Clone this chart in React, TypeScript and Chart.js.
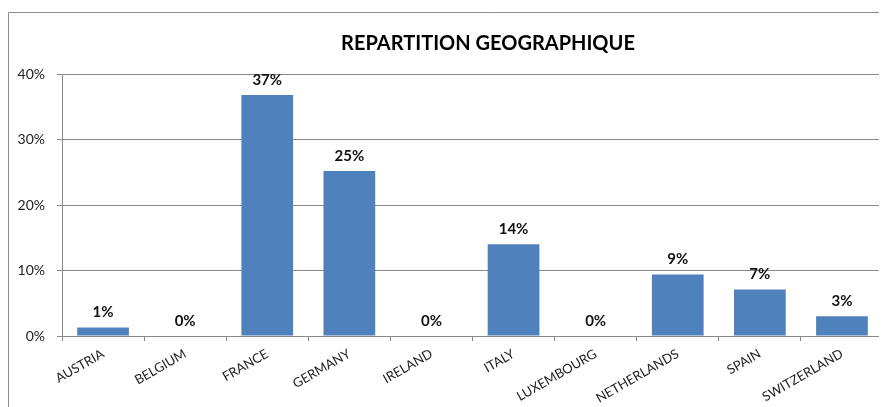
import React, { useEffect, useRef } from "react";
import { Chart, registerables } from "chart.js";

Chart.register(...registerables);

const categories = [
  "AUSTRIA",
  "BELGIUM",
  "FRANCE",
  "GERMANY",
  "IRELAND",
  "ITALY",
  "LUXEMBOURG",
  "NETHERLANDS",
  "SPAIN",
  "SWITZERLAND",
];
const shares = [1.3, 0, 36.8, 25.2, 0, 14.0, 0, 9.4, 7.1, 3.0];
const yTicks = [0, 10, 20, 30, 40];
const titleText = "REPARTITION GEOGRAPHIQUE";

const FONT = "Lato, 'Open Sans', sans-serif";
const GRID = "#8a8a8a";

const framePlugin = {
  id: "frame",
  beforeDraw(chart: any) {
    const ctx = chart.ctx;
    ctx.save();
    ctx.strokeStyle = "#8c8c8c";
    ctx.lineWidth = 1;
    ctx.beginPath();
    ctx.moveTo(0.5, chart.height + 10);
    ctx.lineTo(0.5, 4.5);
    ctx.lineTo(chart.width + 10, 4.5);
    ctx.stroke();
    ctx.restore();
  },
  afterDraw(chart: any) {
    const ctx = chart.ctx;
    ctx.save();
    ctx.font = `bold 20px ${FONT}`;
    ctx.fillStyle = "#000";
    ctx.textAlign = "center";
    ctx.textBaseline = "middle";
    ctx.fillText(titleText, chart.width / 2, 35.5);
    ctx.restore();
  },
};

const labelPlugin = {
  id: "barLabels",
  afterDatasetsDraw(chart: any) {
    const ctx = chart.ctx;
    const meta = chart.getDatasetMeta(0);
    const data = chart.data.datasets[0].data as number[];
    ctx.save();
    ctx.font = `bold 15px ${FONT}`;
    ctx.fillStyle = "#111";
    ctx.textAlign = "center";
    ctx.textBaseline = "middle";
    meta.data.forEach((el: any, i: number) => {
      ctx.fillText(Math.round(data[i]) + "%", el.x, el.y - 15);
    });
    ctx.restore();
  },
};

export default function App() {
  const ref = useRef<HTMLCanvasElement | null>(null);
  useEffect(() => {
    if (!ref.current) return;
    const chart = new Chart(ref.current, {
      type: "bar",
      data: {
        labels: categories,
        datasets: [
          {
            data: shares,
            backgroundColor: "#4F81BD",
            borderWidth: 0,
            barPercentage: 0.63,
            categoryPercentage: 1,
          },
        ],
      },
      options: {
        responsive: false,
        animation: false,
        layout: { padding: { left: 0, right: 85, top: 66, bottom: 0 } },
        plugins: {
          legend: { display: false },
          tooltip: { enabled: false },
          title: { display: false },
        },
        scales: {
          x: {
            grid: {
              offset: true,
              drawOnChartArea: false,
              drawTicks: true,
              tickLength: 5,
              color: GRID,
            },
            border: { color: GRID },
            ticks: {
              autoSkip: false,
              minRotation: 30,
              maxRotation: 30,
              padding: 5,
              color: "#222",
              font: { family: FONT, size: 13 },
            },
            afterFit(scale: any) {
              scale.height = 92;
            },
          },
          y: {
            min: 0,
            max: 40,
            afterBuildTicks(scale: any) {
              scale.ticks = yTicks.map((v) => ({ value: v }));
            },
            grid: { color: GRID, tickLength: 5 },
            border: { color: GRID },
            ticks: {
              padding: 12,
              color: "#222",
              font: { family: FONT, size: 14 },
              callback: (v: any) => v + "%",
            },
            afterFit(scale: any) {
              scale.width = 54;
            },
          },
        },
      },
      plugins: [framePlugin, labelPlugin],
    });
    return () => chart.destroy();
  }, []);
  return (
    <div style={{ width: 879, height: 399, overflow: "hidden" }}>
      <canvas ref={ref} width={960} height={420} style={{ display: "block" }} />
    </div>
  );
}
